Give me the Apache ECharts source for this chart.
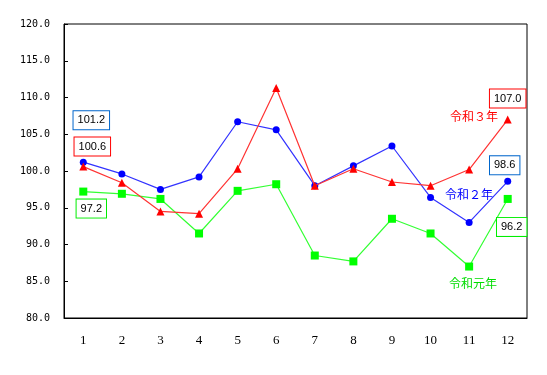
<!DOCTYPE html>
<html><head><meta charset="utf-8">
<script src="https://cdn.jsdelivr.net/npm/echarts@6/dist/echarts.min.js"></script>
<style>html,body{margin:0;padding:0;background:#fff}#c{width:547px;height:375px}</style>
</head><body><div id="c"></div>
<script>
const months = ['1','2','3','4','5','6','7','8','9','10','11','12'];
const names = ['令和元年','令和２年','令和３年'];
const r1 = [97.2, 96.9, 96.2, 91.5, 97.3, 98.2, 88.5, 87.7, 93.5, 91.5, 87.0, 96.2];
const r2 = [101.2, 99.6, 97.5, 99.2, 106.7, 105.6, 98.0, 100.7, 103.4, 96.4, 93.0, 98.6];
const r3 = [100.6, 98.4, 94.5, 94.2, 100.3, 111.3, 98.0, 100.3, 98.5, 98.0, 100.2, 107.0];
const yMin = 80, yMax = 120, yStep = 5;

const boxLabel = (color, offset) => ({
  show: true, position: 'inside', offset: offset,
  formatter: p => p.value.toFixed(1),
  color: '#000', fontFamily: 'Liberation Sans, Arial', fontSize: 11,
  borderColor: color, borderWidth: 1, backgroundColor: '#fff',
  padding: [4, 4, 3, 4]
});
function withLabels(arr, color, firstOff, lastOff) {
  return arr.map((v, i) => {
    if (i === 0) return {value: v, label: boxLabel(color, firstOff)};
    if (i === arr.length - 1) return {value: v, label: boxLabel(color, lastOff)};
    return v;
  });
}

const chart = echarts.init(document.getElementById('c'));
chart.setOption({
  animation: false,
  backgroundColor: '#fff',
  grid: {left: 64, right: 20, top: 24, bottom: 57, show: true, borderColor: '#000', borderWidth: 1},
  xAxis: {
    type: 'category', data: months, boundaryGap: true,
    axisLine: {lineStyle: {color: '#000', width: 1}},
    axisTick: {inside: true, length: 4, lineStyle: {color: '#000'}},
    axisLabel: {color: '#000', fontFamily: 'Liberation Serif, serif', fontSize: 13, margin: 16}
  },
  yAxis: {
    type: 'value', min: yMin, max: yMax, interval: yStep,
    axisLine: {show: true, lineStyle: {color: '#000', width: 1}},
    axisTick: {show: true, inside: true, length: 4, lineStyle: {color: '#000'}},
    splitLine: {show: false},
    axisLabel: {color: '#000', fontFamily: 'DejaVu Sans Mono, monospace', fontSize: 10, margin: 14,
      formatter: v => v.toFixed(1)}
  },
  series: [
    {name: names[0], type: 'line', data: withLabels(r1, '#00ee00', [8, 17], [4, 28]),
     symbol: 'rect', symbolSize: 8, itemStyle: {color: '#00ff00'},
     lineStyle: {color: '#33ff33', width: 1.2}, z: 2},
    {name: names[1], type: 'line', data: withLabels(r2, '#0066cc', [8, -42], [-3, -16]),
     symbol: 'circle', symbolSize: 7, itemStyle: {color: '#0000ff'},
     lineStyle: {color: '#3333ff', width: 1.2}, z: 3},
    {name: names[2], type: 'line', data: withLabels(r3, '#ff0000', [9, -20], [0, -21]),
     symbol: 'triangle', symbolSize: 8, itemStyle: {color: '#ff0000'},
     lineStyle: {color: '#ff3333', width: 1.2}, z: 4}
  ],
  graphic: [
    {type: 'text', left: 450, top: 110, style: {text: names[2], fill: '#ff0000', font: '12px "Noto Sans CJK JP"'}},
    {type: 'text', left: 445, top: 188, style: {text: names[1], fill: '#0000ff', font: '12px "Noto Sans CJK JP"'}},
    {type: 'text', left: 449, top: 277, style: {text: names[0], fill: '#00dd00', font: '12px "Noto Sans CJK JP"'}}
  ]
});
</script></body></html>
